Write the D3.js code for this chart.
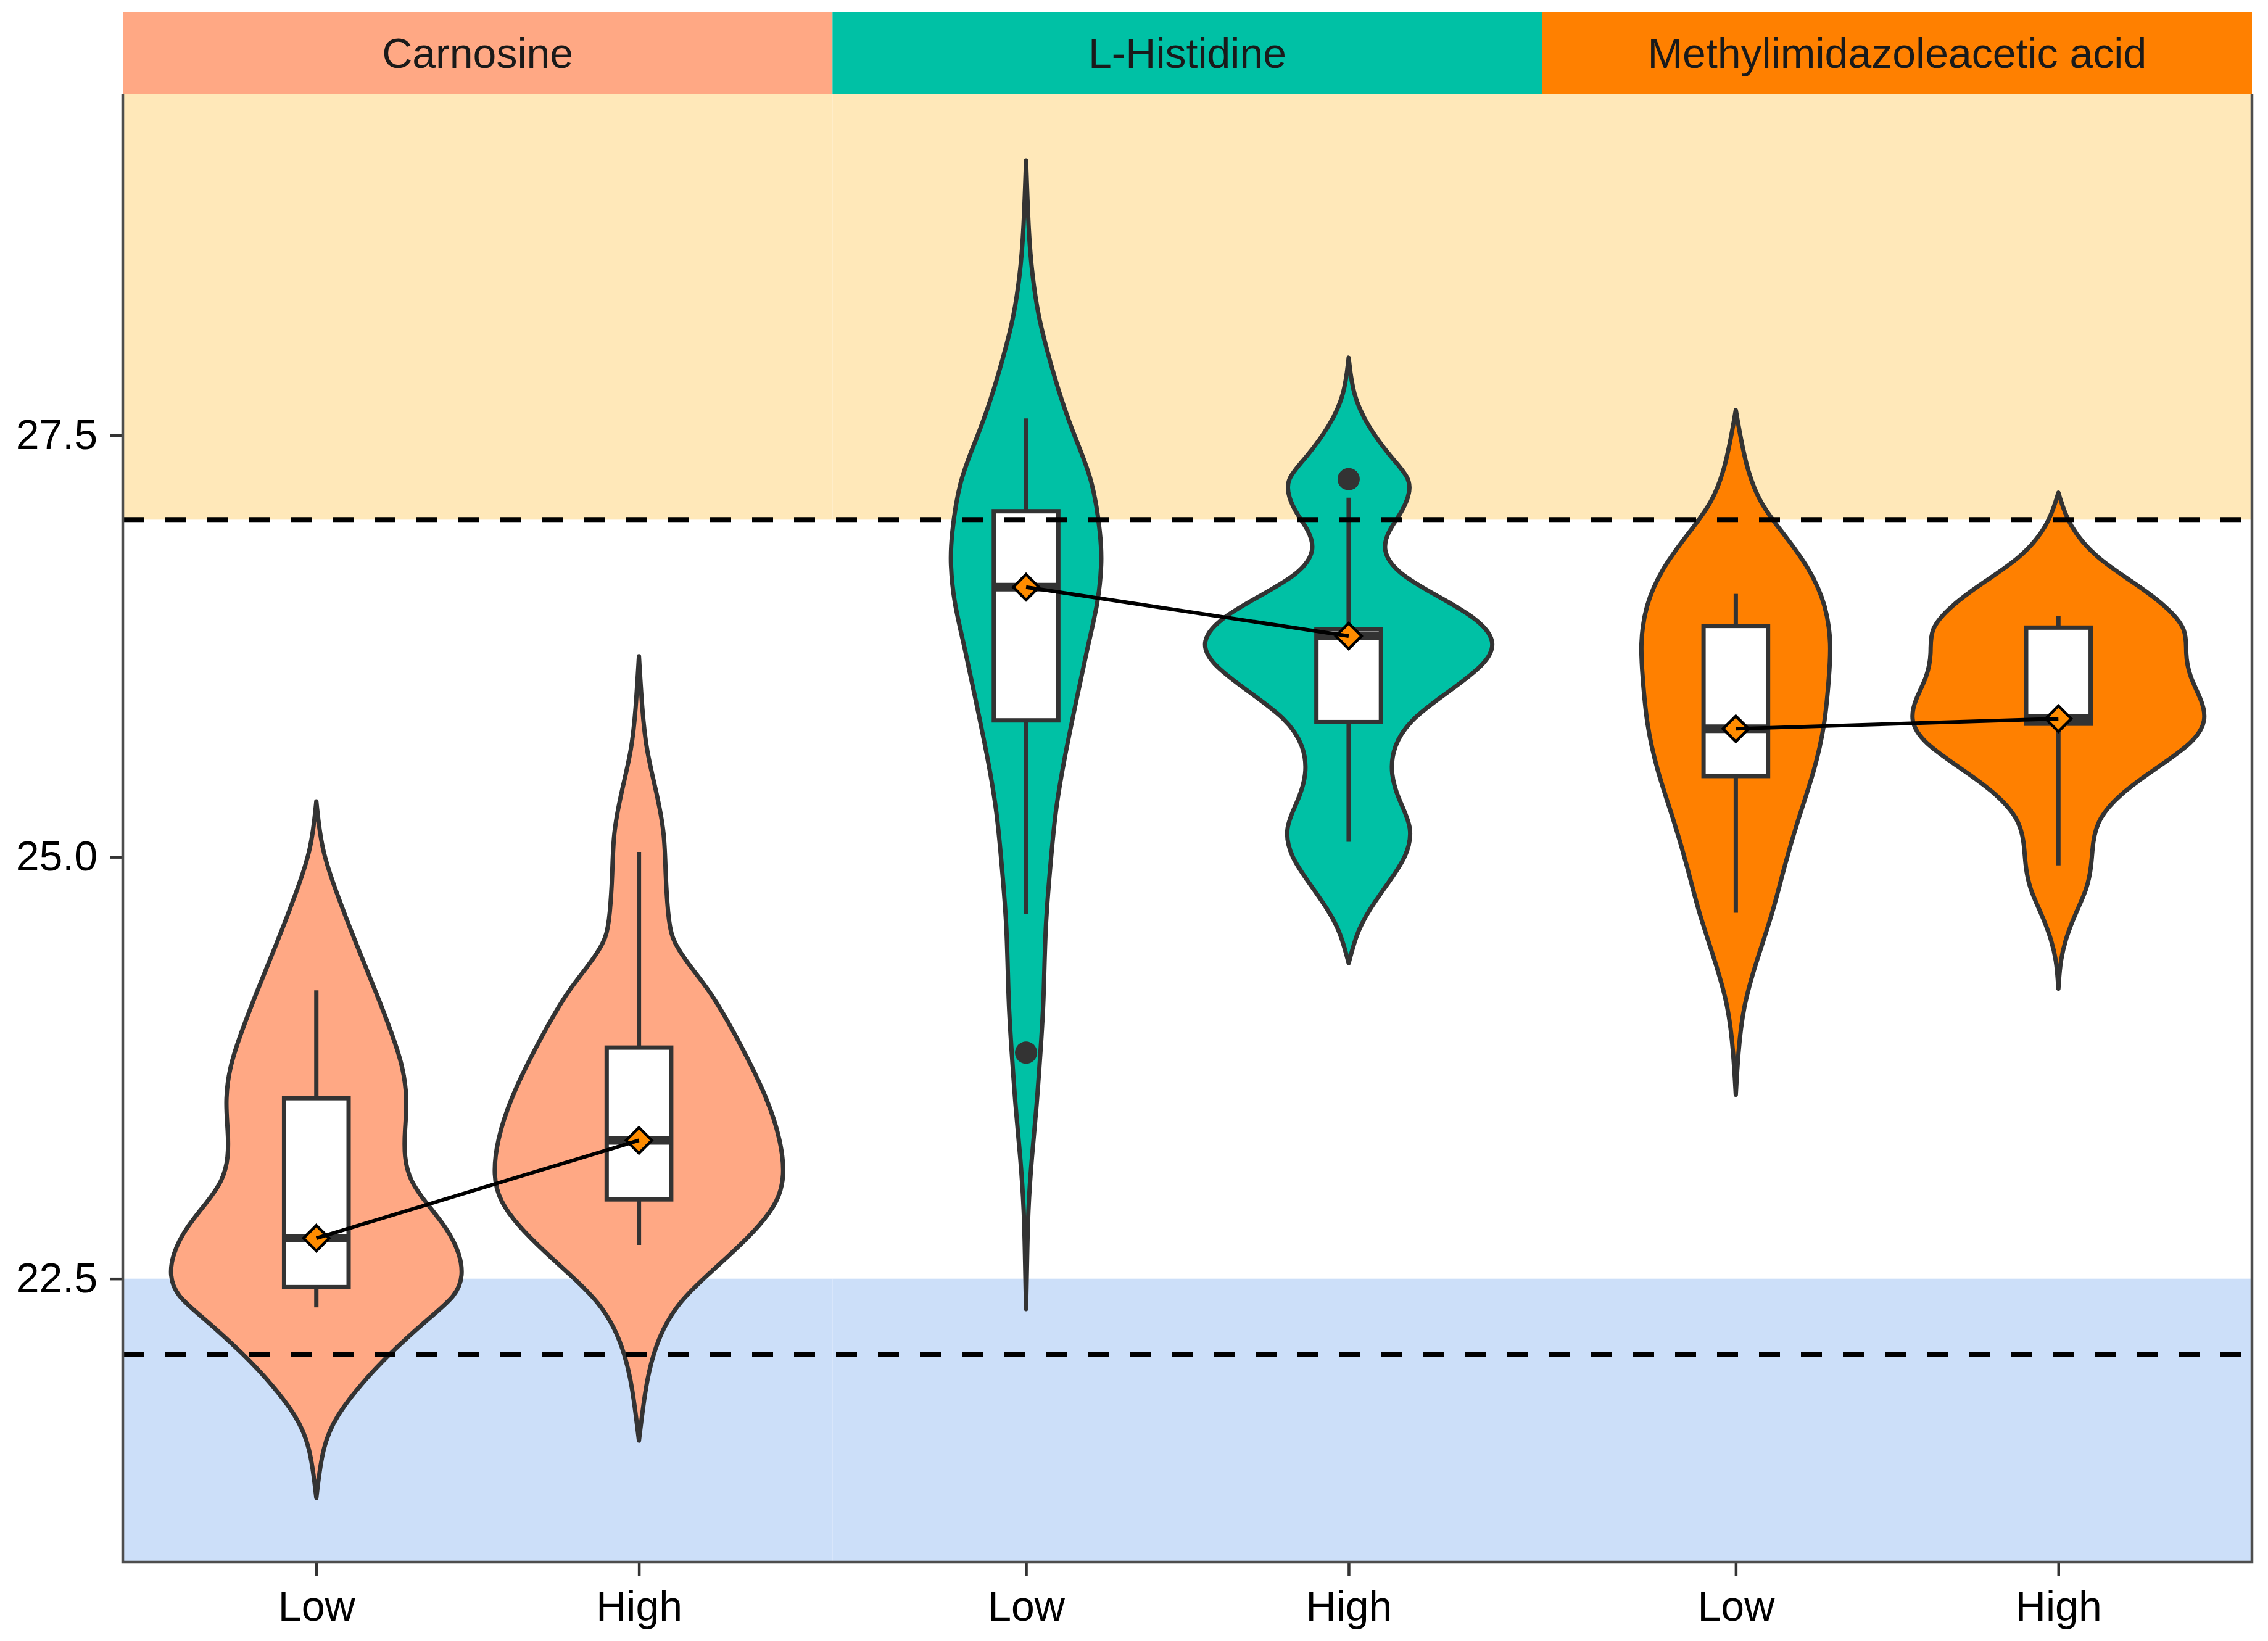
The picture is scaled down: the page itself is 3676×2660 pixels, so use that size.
<!DOCTYPE html>
<html>
<head>
<meta charset="utf-8">
<script src="https://cdn.jsdelivr.net/npm/d3@7"></script>
<style>
  body { margin: 0; background: #fff; }
  svg { display: block; font-family: "Liberation Sans", Arial, sans-serif; }
</style>
</head>
<body>
<svg id="chart" width="3676" height="2660"></svg>
<script>
// metabolites (facets) and groups
const metabolites = ["Carnosine", "L-Histidine", "Methylimidazoleacetic acid"];
const groups = ["Low", "High"];
const facetColors = ["#FFA884", "#00C1A5", "#FF8000"];
const yTicks = [22.5, 25.0, 27.5];

// reference limits (dashed lines)
const upperLimit = 27.0;
const lowerLimit = 22.05;
// shaded bands
const upperBandFrom = 27.0;
const lowerBandTo = 22.5;

// violin outlines: [value, half width as fraction of group step]
const carnosineLow = [[25.33,0],[25.05,.015],[24.80,.06],[24.50,.12],[24.20,.185],[23.95,.235],[23.75,.27],[23.55,.282],[23.38,.274],[23.22,.272],[23.08,.29],[22.95,.34],[22.80,.405],[22.65,.445],[22.52,.455],[22.40,.435],[22.26,.345],[22.05,.224],[21.87,.136],[21.69,.063],[21.51,.019],[21.20,0]];
const carnosineHigh = [[26.19,0],[25.87,.01],[25.63,.023],[25.39,.054],[25.14,.08],[24.90,.082],[24.66,.09],[24.52,.10],[24.40,.14],[24.30,.18],[24.17,.233],[23.87,.321],[23.57,.398],[23.32,.44],[23.11,.452],[22.96,.432],[22.81,.373],[22.66,.293],[22.51,.205],[22.36,.124],[22.20,.073],[22.05,.044],[21.87,.021],[21.54,0]];
const histidineLow = [[29.13,0],[28.69,.008],[28.45,.019],[28.20,.038],[27.96,.071],[27.71,.109],[27.47,.155],[27.23,.208],[26.90,.232],[26.74,.235],[26.51,.224],[26.25,.191],[25.92,.155],[25.59,.119],[25.27,.09],[24.94,.075],[24.59,.059],[24.13,.055],[23.83,.044],[23.52,.033],[23.21,.017],[22.90,.006],[22.59,.003],[22.32,0]];
const histidineHigh = [[27.96,0],[27.74,.013],[27.56,.057],[27.37,.13],[27.24,.195],[27.13,.186],[27.03,.16],[26.94,.125],[26.82,.102],[26.68,.15],[26.54,.283],[26.41,.402],[26.28,.458],[26.15,.43],[25.98,.31],[25.82,.193],[25.66,.138],[25.49,.129],[25.33,.157],[25.17,.2],[25.00,.18],[24.84,.12],[24.68,.061],[24.55,.025],[24.37,0]];
const methylLow = [[27.65,0],[27.33,.029],[27.10,.072],[26.91,.151],[26.71,.229],[26.49,.281],[26.26,.296],[26.07,.289],[25.79,.277],[25.51,.244],[25.23,.194],[24.95,.151],[24.67,.115],[24.39,.065],[24.11,.022],[23.83,.007],[23.59,0]];
const methylHigh = [[27.16,0],[26.96,.032],[26.77,.118],[26.63,.232],[26.49,.333],[26.35,.4],[26.21,.393],[26.07,.406],[25.93,.445],[25.81,.46],[25.68,.422],[25.51,.29],[25.37,.189],[25.23,.124],[25.09,.106],[24.95,.103],[24.81,.089],[24.67,.054],[24.53,.025],[24.39,.006],[24.22,0]];

// box stats: [whisker low, q1, median, q3, whisker high]
const carnosineLowBox = [22.33, 22.45, 22.74, 23.57, 24.21];
const carnosineHighBox = [22.70, 22.97, 23.32, 23.87, 25.03];
const histidineLowBox = [24.66, 25.81, 26.60, 27.05, 27.60];
const histidineHighBox = [25.09, 25.80, 26.31, 26.35, 27.13];
const methylLowBox = [24.67, 25.48, 25.76, 26.37, 26.56];
const methylHighBox = [24.95, 25.79, 25.82, 26.36, 26.43];

// outliers
const carnosineLowOut = [], carnosineHighOut = [];
const histidineLowOut = [23.84], histidineHighOut = [27.24];
const methylLowOut = [], methylHighOut = [];

const series = [
  { metabolite: "Carnosine", group: "Low", violin: carnosineLow, box: carnosineLowBox, out: carnosineLowOut },
  { metabolite: "Carnosine", group: "High", violin: carnosineHigh, box: carnosineHighBox, out: carnosineHighOut },
  { metabolite: "L-Histidine", group: "Low", violin: histidineLow, box: histidineLowBox, out: histidineLowOut },
  { metabolite: "L-Histidine", group: "High", violin: histidineHigh, box: histidineHighBox, out: histidineHighOut },
  { metabolite: "Methylimidazoleacetic acid", group: "Low", violin: methylLow, box: methylLowBox, out: methylLowOut },
  { metabolite: "Methylimidazoleacetic acid", group: "High", violin: methylHigh, box: methylHighBox, out: methylHighOut }
];

// layout
const panel = { left: 199, right: 3650, top: 152, bottom: 2532 };
const stripTop = 19;
const fontSize = 68;

const svg = d3.select("#chart");

const fx = d3.scaleBand().domain(metabolites).range([panel.left, panel.right]).padding(0);
const xIn = d3.scalePoint().domain(groups).range([0, fx.bandwidth()]).padding(0.6);
const step = xIn.step();
const y = d3.scaleLinear().domain([20.82, 29.525]).range([panel.bottom, panel.top]);
const color = d3.scaleOrdinal().domain(metabolites).range(facetColors);
const cx = d => fx(d.metabolite) + xIn(d.group);

// bands
const bands = svg.append("g");
metabolites.forEach(m => {
  bands.append("rect")
    .attr("x", fx(m)).attr("width", fx.bandwidth())
    .attr("y", panel.top).attr("height", y(upperBandFrom) - panel.top)
    .attr("fill", "#FFE8B9");
  bands.append("rect")
    .attr("x", fx(m)).attr("width", fx.bandwidth())
    .attr("y", y(lowerBandTo)).attr("height", panel.bottom - y(lowerBandTo))
    .attr("fill", "#CCDFF9");
});

// strips
const strips = svg.append("g");
metabolites.forEach(m => {
  strips.append("rect")
    .attr("x", fx(m)).attr("width", fx.bandwidth())
    .attr("y", stripTop).attr("height", panel.top - stripTop)
    .attr("fill", color(m));
  strips.append("text")
    .attr("x", fx(m) + fx.bandwidth() / 2)
    .attr("y", (stripTop + panel.top) / 2)
    .attr("text-anchor", "middle")
    .attr("dominant-baseline", "central")
    .style("font-size", fontSize + "px")
    .style("fill", "#1a1a1a")
    .text(m);
});

// violins
const g = svg.append("g");
g.selectAll("path.violin")
  .data(series)
  .enter().append("path")
    .attr("class", "violin")
    .attr("d", d => d3.area()
      .y(p => y(p[0]))
      .x0(p => cx(d) - p[1] * step)
      .x1(p => cx(d) + p[1] * step)
      .curve(d3.curveBasis)(d.violin))
    .style("fill", d => color(d.metabolite))
    .style("stroke", "#333")
    .style("stroke-width", 7)
    .style("stroke-linejoin", "round");

// whiskers
g.selectAll("line.whisker-hi")
  .data(series)
  .enter().append("line")
    .attr("x1", cx).attr("x2", cx)
    .attr("y1", d => y(d.box[3])).attr("y2", d => y(d.box[4]))
    .style("stroke", "#333").style("stroke-width", 7);
g.selectAll("line.whisker-lo")
  .data(series)
  .enter().append("line")
    .attr("x1", cx).attr("x2", cx)
    .attr("y1", d => y(d.box[1])).attr("y2", d => y(d.box[0]))
    .style("stroke", "#333").style("stroke-width", 7);

// boxes
const boxW = 0.2 * step;
g.selectAll("rect.box")
  .data(series)
  .enter().append("rect")
    .attr("x", d => cx(d) - boxW / 2)
    .attr("width", boxW)
    .attr("y", d => y(d.box[3]))
    .attr("height", d => y(d.box[1]) - y(d.box[3]))
    .style("fill", "#fff")
    .style("stroke", "#333")
    .style("stroke-width", 7);

// medians
g.selectAll("line.median")
  .data(series)
  .enter().append("line")
    .attr("x1", d => cx(d) - boxW / 2).attr("x2", d => cx(d) + boxW / 2)
    .attr("y1", d => y(d.box[2])).attr("y2", d => y(d.box[2]))
    .style("stroke", "#333").style("stroke-width", 14);

// outliers
g.selectAll("circle.out")
  .data(series.flatMap(d => d.out.map(v => ({ d, v }))))
  .enter().append("circle")
    .attr("cx", o => cx(o.d)).attr("cy", o => y(o.v))
    .attr("r", 18)
    .style("fill", "#333");

// median diamonds and connecting lines
const diamond = d3.symbol().type(d3.symbolDiamond2).size(1100);
g.selectAll("path.diamond")
  .data(series)
  .enter().append("path")
    .attr("d", diamond)
    .attr("transform", d => `translate(${cx(d)},${y(d.box[2])})`)
    .style("fill", "#FF8C00")
    .style("stroke", "#000")
    .style("stroke-width", 4.5);

metabolites.forEach(m => {
  const pts = series.filter(d => d.metabolite === m);
  g.append("path")
    .attr("d", d3.line().x(cx).y(d => y(d.box[2]))(pts))
    .style("fill", "none")
    .style("stroke", "#000")
    .style("stroke-width", 6);
});

// dashed reference lines
[upperLimit, lowerLimit].forEach(v => {
  svg.append("line")
    .attr("x1", panel.left).attr("x2", panel.right)
    .attr("y1", y(v)).attr("y2", y(v))
    .style("stroke", "#000")
    .style("stroke-width", 8)
    .style("stroke-dasharray", "34,34");
});

// y axis
const yAxis = svg.append("g")
  .attr("transform", `translate(${panel.left},0)`)
  .call(d3.axisLeft(y).tickValues(yTicks).tickFormat(d3.format(".1f")).tickSize(21).tickPadding(20));
yAxis.select(".domain").remove();
yAxis.selectAll(".tick line").style("stroke", "#333").style("stroke-width", 4.5);
yAxis.selectAll(".tick text")
  .style("font-size", fontSize + "px")
  .style("font-family", "Liberation Sans, Arial, sans-serif")
  .style("fill", "#000");

// x axes
metabolites.forEach(m => {
  const ax = svg.append("g")
    .attr("transform", `translate(${fx(m)},${panel.bottom})`)
    .call(d3.axisBottom(xIn).tickSize(23).tickPadding(24));
  ax.select(".domain").remove();
  ax.selectAll(".tick line").style("stroke", "#333").style("stroke-width", 4.5);
  ax.selectAll(".tick text")
    .style("font-size", fontSize + "px")
    .style("font-family", "Liberation Sans, Arial, sans-serif")
    .style("fill", "#000");
});

// panel border lines (left, bottom, right)
const border = svg.append("g").style("stroke", "#4d4d4d").style("stroke-width", 4.5).style("fill", "none");
border.append("path")
  .attr("d", `M${panel.left},${panel.top}V${panel.bottom}H${panel.right}V${panel.top}`);
</script>
</body>
</html>
